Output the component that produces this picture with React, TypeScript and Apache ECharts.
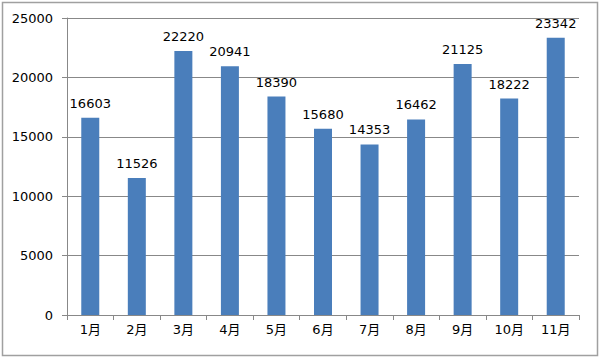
import React, { useEffect, useRef } from "react";
import * as echarts from "echarts";

const categories = ["1月", "2月", "3月", "4月", "5月", "6月", "7月", "8月", "9月", "10月", "11月"];
const values = [16603, 11526, 22220, 20941, 18390, 15680, 14353, 16462, 21125, 18222, 23342];

const FONT = "DejaVu Sans, Verdana, Noto Sans CJK SC, sans-serif";

export default function App() {
  const ref = useRef<HTMLDivElement>(null);
  useEffect(() => {
    document.body.style.margin = "0";
    const chart = echarts.init(ref.current!, null, { renderer: "svg" });
    chart.setOption({
      animation: false,
      backgroundColor: "#fff",
      graphic: [
        {
          type: "rect",
          shape: { x: 2.5, y: 2.5, width: 595, height: 353 },
          style: { fill: "none", stroke: "#a0a0a0", lineWidth: 1.5 },
          silent: true,
        },
      ],
      grid: { left: 67, right: 21, top: 18, bottom: 45 },
      xAxis: {
        type: "category",
        data: categories,
        axisLine: { lineStyle: { color: "#888", width: 1 } },
        axisTick: { show: true, alignWithLabel: false, length: 5, lineStyle: { color: "#888" } },
        axisLabel: {
          color: "#000",
          fontSize: 13,
          margin: 8,
          fontFamily: FONT,
        },
      },
      yAxis: {
        type: "value",
        min: 0,
        max: 25000,
        interval: 5000,
        axisLine: { show: true, lineStyle: { color: "#888", width: 1 } },
        axisTick: { show: true, length: 5, lineStyle: { color: "#888" } },
        splitLine: { lineStyle: { color: "#888", width: 1 } },
        axisLabel: {
          color: "#000",
          fontSize: 13,
          margin: 14,
          fontFamily: FONT,
          formatter: (v: number) => String(v),
        },
      },
      series: [
        {
          type: "bar",
          data: values,
          barWidth: 18,
          itemStyle: { color: "#4a7ebb" },
          label: {
            show: true,
            position: "top",
            distance: 8,
            color: "#000",
            fontSize: 13,
            fontFamily: FONT,
          },
        },
      ],
    });
    return () => chart.dispose();
  }, []);
  return <div ref={ref} style={{ width: 600, height: 360 }} />;
}
